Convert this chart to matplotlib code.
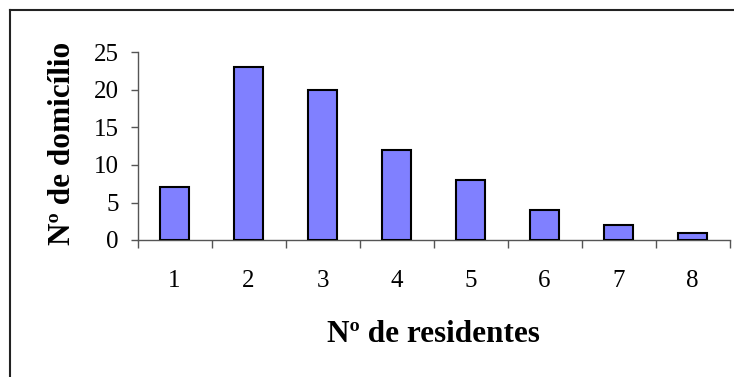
"""
Bar chart: number of households by number of residents.
"""

import matplotlib.pyplot as plt
import numpy as np
from matplotlib.lines import Line2D

W, H = 734, 377
DPI = 100

residents = [1, 2, 3, 4, 5, 6, 7, 8]
households = [7, 23, 20, 12, 8, 4, 2, 1]
y_ticks = [0, 5, 10, 15, 20, 25]

plt.rcParams["font.family"] = ["Liberation Serif", "DejaVu Serif"]

fig = plt.figure(figsize=(W / DPI, H / DPI), dpi=DPI)


def px(x, y):
    """Pixel (from top-left) to figure fraction."""
    return x / W, 1 - y / H


# axes box in pixels
left, right, top, bottom = 137.5, 729.5, 52.5, 240.0
ax = fig.add_axes([left / W, (H - bottom) / H, (right - left) / W, (bottom - top) / H])

x = np.arange(len(residents))
ax.bar(x + 1, households, width=0.4, color="#8080FF", edgecolor="black", linewidth=1.5, zorder=3)

ax.set_xlim(0.5, len(residents) + 0.5)
ax.set_ylim(0, 25)

for s in ("top", "right"):
    ax.spines[s].set_visible(False)
for s in ("left", "bottom"):
    ax.spines[s].set_color("#555555")
    ax.spines[s].set_linewidth(1.0)

# category labels at centres, tick marks between categories
ax.set_xticks(residents)
ax.set_xticklabels([str(r) for r in residents])
ax.set_xticks(np.arange(0.5, len(residents) + 1, 1.0), minor=True)
ax.tick_params(axis="x", which="major", length=0, pad=21.5, labelsize=18)
ax.tick_params(axis="x", which="minor", length=6, width=1.0, color="#555555", direction="out")

ax.set_yticks(y_ticks)
ax.tick_params(axis="y", which="major", length=5, width=1.0, color="#555555",
               direction="out", pad=8.6, labelsize=18)

# axis titles
fig.text(*px(433, 341.7), "Nº de residentes", fontsize=22.5, fontweight="bold",
         ha="center", va="baseline")
fig.text(*px(70, 143.5), "Nº de domicílio", fontsize=22.5, fontweight="bold",
         rotation=90, rotation_mode="anchor", ha="center", va="baseline")

# chart area border (top and left edges)
x0, y0 = px(10, 10)
fig.add_artist(Line2D([x0, 1.0], [y0, y0], transform=fig.transFigure, color="#222222", lw=1.5))
fig.add_artist(Line2D([x0, x0], [0.0, y0], transform=fig.transFigure, color="#222222", lw=1.5))

fig.savefig("out.png", dpi=DPI)
